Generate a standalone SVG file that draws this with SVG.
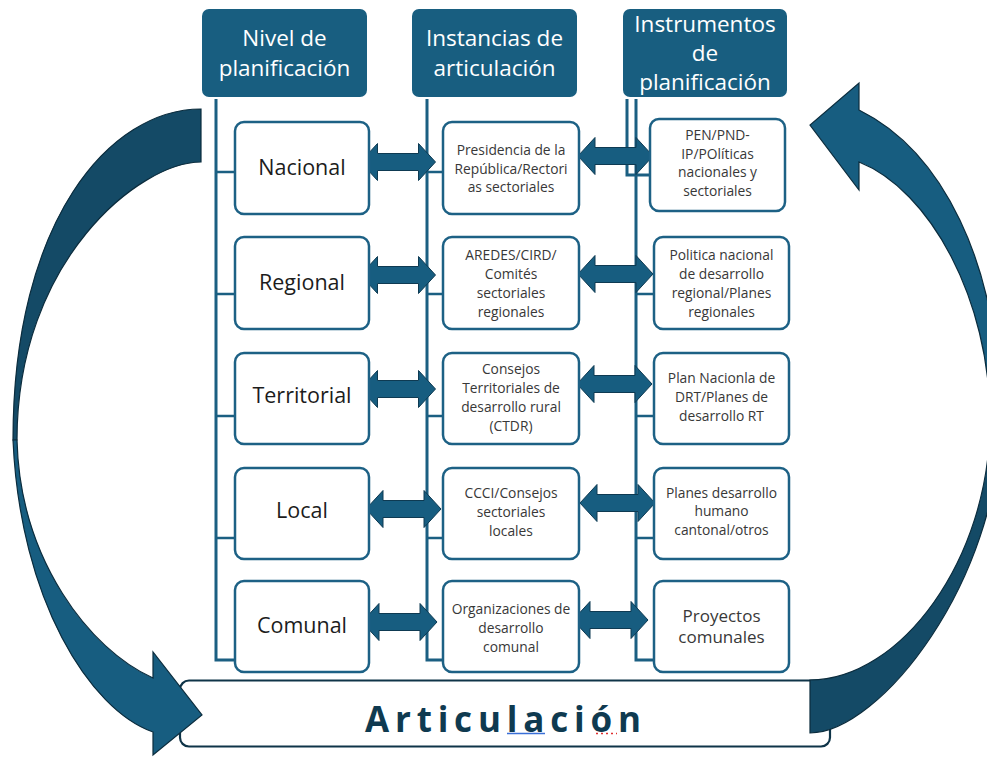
<svg xmlns="http://www.w3.org/2000/svg" width="987" height="757" viewBox="0 0 987 757">
<style>
.hdr{fill:#185e80;}
.hdrt{fill:#ffffff;font-family:"Open Sans","Noto Sans",sans-serif;font-size:22.5px;text-anchor:middle;}
.box{fill:#ffffff;stroke:#1d6185;stroke-width:2.5;}
.lvl{fill:#1c1c1c;font-family:"Open Sans","Noto Sans",sans-serif;font-size:21.5px;text-anchor:middle;}
.sm{fill:#383838;font-family:"Open Sans","Noto Sans",sans-serif;font-size:13.8px;text-anchor:middle;}
.md{fill:#383838;font-family:"Open Sans","Noto Sans",sans-serif;font-size:17px;text-anchor:middle;}
.vl{fill:none;stroke:#1b5f82;stroke-width:3;}
.br{fill:none;stroke:#1b5f82;stroke-width:2.5;}
.dbl{fill:#175d80;stroke:#0e3a52;stroke-width:1;}
.cl{fill:#175d80;stroke:#0b2c3d;stroke-width:1.2;}
.cd{fill:#144a66;stroke:#0b2c3d;stroke-width:1.2;}
</style>
<defs>
<path id="darr" d="M-37.5,0 L-20.5,-18.5 L-20.5,-8.5 L20.5,-8.5 L20.5,-18.5 L37.5,0 L20.5,18.5 L20.5,8.5 L-20.5,8.5 L-20.5,18.5 Z"/>
</defs>
<rect width="987" height="757" fill="#ffffff"/>

<g id="bar">
<rect x="180" y="680.5" width="650" height="66" rx="9" fill="#ffffff" stroke="#0f3448" stroke-width="2.2"/>
<text x="365" y="732" style="font-family:'Open Sans','Noto Sans',sans-serif;font-weight:bold;font-size:35px;letter-spacing:5.8px;fill:#0f3a50">Articulación</text>
<line x1="507" y1="733.5" x2="545" y2="733.5" stroke="#3a6fd8" stroke-width="1.3"/>
<line x1="596" y1="733.5" x2="617" y2="733.5" stroke="#e03030" stroke-width="1.3" stroke-dasharray="2,3"/>
</g>

<g id="connectors">
<polyline class="vl" points="216,99 216,660 235,660"/>
<line class="br" x1="216" y1="172" x2="235" y2="172"/>
<line class="br" x1="216" y1="294" x2="235" y2="294"/>
<line class="br" x1="216" y1="416" x2="235" y2="416"/>
<line class="br" x1="216" y1="538" x2="235" y2="538"/>
<polyline class="vl" points="427,99 427,660 443,660"/>
<line class="br" x1="427" y1="172" x2="443" y2="172"/>
<line class="br" x1="427" y1="294" x2="443" y2="294"/>
<line class="br" x1="427" y1="416" x2="443" y2="416"/>
<line class="br" x1="427" y1="538" x2="443" y2="538"/>
<polyline class="vl" points="627,99 627,175 650,175"/>
<polyline class="vl" points="636,99 636,660 654,660"/>
<line class="br" x1="636" y1="294" x2="654" y2="294"/>
<line class="br" x1="636" y1="416" x2="654" y2="416"/>
<line class="br" x1="636" y1="538" x2="654" y2="538"/>
<use href="#darr" class="dbl" transform="translate(398,162)"/>
<use href="#darr" class="dbl" transform="translate(398,275)"/>
<use href="#darr" class="dbl" transform="translate(398,389)"/>
<use href="#darr" class="dbl" transform="translate(403.5,509)"/>
<use href="#darr" class="dbl" transform="translate(399.5,622)"/>
<use href="#darr" class="dbl" transform="translate(615.5,156)"/>
<use href="#darr" class="dbl" transform="translate(615.5,274)"/>
<use href="#darr" class="dbl" transform="translate(614.5,384)"/>
<use href="#darr" class="dbl" transform="translate(617.5,503)"/>
<use href="#darr" class="dbl" transform="translate(610.5,620)"/>
</g>

<g id="arrow-left">
<path class="cd" d="M201,109 C110,109 13,220 13,440 L17,440 C17,260 140,162 201,162 Z"/>
<path class="cl" d="M13,440 C20,600 90,710 153,732 L153,755 L202,715 L153,652 L153,678 C90,650 20,560 17,440 Z"/>
</g>
<g id="arrow-right">
<path class="cl" d="M859,162 C930,190 990,300 990,420 L1000,420 C1000,260 940,150 859,110 L859,83 L810,125 L859,190 Z"/>
<path class="cd" d="M990,420 C990,560 900,680 810,680 L810,733 C880,733 1000,580 1000,420 Z"/>
</g>

<g id="h1"><rect class="hdr" x="202" y="9" width="165" height="88" rx="7"/>
<text class="hdrt" x="284.5" y="46">Nivel de</text><text class="hdrt" x="284.5" y="76">planificación</text></g>
<g id="h2"><rect class="hdr" x="412" y="9" width="165" height="88" rx="7"/>
<text class="hdrt" x="494.5" y="46">Instancias de</text><text class="hdrt" x="494.5" y="76">articulación</text></g>
<g id="h3"><rect class="hdr" x="623" y="9" width="164" height="88" rx="7"/>
<text class="hdrt" x="705" y="32">Instrumentos</text><text class="hdrt" x="705" y="61">de</text><text class="hdrt" x="705" y="90">planificación</text></g>

<g id="nacional"><rect class="box" x="235" y="122" width="134" height="92" rx="9"/><text class="lvl" x="302" y="175">Nacional</text></g>
<g id="regional"><rect class="box" x="235" y="237" width="134" height="92" rx="9"/><text class="lvl" x="302" y="290">Regional</text></g>
<g id="territorial"><rect class="box" x="235" y="353" width="134" height="91" rx="9"/><text class="lvl" x="302" y="403">Territorial</text></g>
<g id="local"><rect class="box" x="235" y="468" width="134" height="91" rx="9"/><text class="lvl" x="302" y="518">Local</text></g>
<g id="comunal"><rect class="box" x="235" y="581" width="134" height="91" rx="9"/><text class="lvl" x="302" y="633">Comunal</text></g>

<g id="presidencia"><rect class="box" x="443" y="122" width="136" height="92" rx="9"/>
<text class="sm" x="511" y="155">Presidencia de la</text><text class="sm" x="511" y="173.5">República/Rectori</text><text class="sm" x="511" y="192">as sectoriales</text></g>
<g id="aredes"><rect class="box" x="443" y="237" width="136" height="92" rx="9"/>
<text class="sm" x="511" y="260">AREDES/CIRD/</text><text class="sm" x="511" y="279">Comités</text><text class="sm" x="511" y="298">sectoriales</text><text class="sm" x="511" y="317">regionales</text></g>
<g id="consejos"><rect class="box" x="443" y="353" width="136" height="91" rx="9"/>
<text class="sm" x="511" y="374">Consejos</text><text class="sm" x="511" y="393">Territoriales de</text><text class="sm" x="511" y="412">desarrollo rural</text><text class="sm" x="511" y="430.5">(CTDR)</text></g>
<g id="ccci"><rect class="box" x="443" y="468" width="136" height="91" rx="9"/>
<text class="sm" x="511" y="498">CCCI/Consejos</text><text class="sm" x="511" y="517">sectoriales</text><text class="sm" x="511" y="535.5">locales</text></g>
<g id="organizaciones"><rect class="box" x="443" y="581" width="136" height="91" rx="9"/>
<text class="sm" x="511" y="613.5">Organizaciones de</text><text class="sm" x="511" y="633">desarrollo</text><text class="sm" x="511" y="652">comunal</text></g>

<g id="pen"><rect class="box" x="650" y="119" width="135" height="92" rx="9"/>
<text class="sm" x="717.5" y="140">PEN/PND-</text><text class="sm" x="717.5" y="158.5">IP/POlíticas</text><text class="sm" x="717.5" y="177">nacionales y</text><text class="sm" x="717.5" y="195.5">sectoriales</text></g>
<g id="politica"><rect class="box" x="654" y="237" width="135" height="92" rx="9"/>
<text class="sm" x="721.5" y="260">Politica nacional</text><text class="sm" x="721.5" y="279">de desarrollo</text><text class="sm" x="721.5" y="298">regional/Planes</text><text class="sm" x="721.5" y="317">regionales</text></g>
<g id="plan"><rect class="box" x="654" y="353" width="135" height="91" rx="9"/>
<text class="sm" x="721.5" y="383">Plan Nacionla de</text><text class="sm" x="721.5" y="402">DRT/Planes de</text><text class="sm" x="721.5" y="420.5">desarrollo RT</text></g>
<g id="planes"><rect class="box" x="654" y="468" width="135" height="91" rx="9"/>
<text class="sm" x="721.5" y="497.5">Planes desarrollo</text><text class="sm" x="721.5" y="516">humano</text><text class="sm" x="721.5" y="535">cantonal/otros</text></g>
<g id="proyectos"><rect class="box" x="654" y="581" width="135" height="91" rx="9"/>
<text class="md" x="721.5" y="622">Proyectos</text><text class="md" x="721.5" y="643">comunales</text></g>
</svg>
